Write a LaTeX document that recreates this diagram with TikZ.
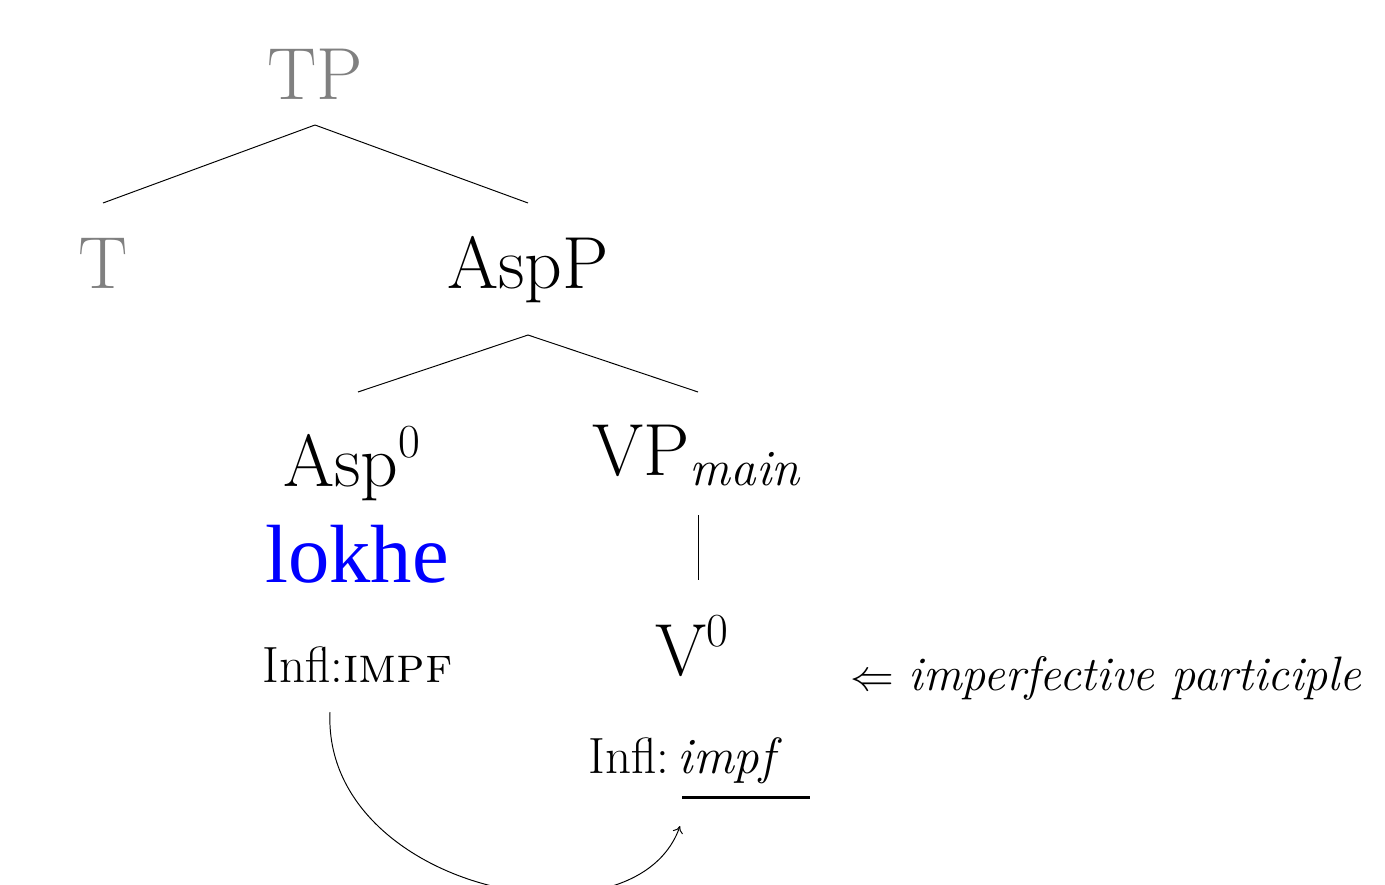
\documentclass[tikz,border=0pt]{standalone}
\usepackage{fontspec}
\usetikzlibrary{arrows.meta}
\newfontfamily\timesfam{Liberation Serif}
\definecolor{tgray}{RGB}{128,128,128}
\definecolor{lblue}{RGB}{0,0,255}
\tikzset{
  big/.style={font=\fontsize{42}{42}\selectfont, inner sep=0pt, anchor=base west},
  small/.style={font=\fontsize{29}{29}\selectfont, inner sep=0pt, anchor=base west},
  edge/.style={line width=0.55pt},
}
\begin{document}
\begin{tikzpicture}[x=0.02cm,y=-0.02cm]
\useasboundingbox (0,0) rectangle (1385,885);
% nodes
\node[big, anchor=base, text=tgray] (TP) at (315,100) {TP};
\node[big, anchor=base, text=tgray] (T) at (103,288) {T};
\node[big, anchor=base] (AspP) at (528,288) {AspP};
\node[big] (Asp) at (283,486) {Asp\raisebox{16pt}{\fontsize{27}{27}\selectfont 0}};
\node[big] (VP) at (592,475) {VP\raisebox{-6pt}{\fontsize{29}{29}\selectfont\itshape main}};
\node[big, font=\fontsize{47}{47}\timesfam, text=lblue] (lokhe) at (265,582) {lokhe};
\node[big] (V) at (655,675) {V\raisebox{16pt}{\fontsize{27}{27}\selectfont 0}};
\node[small] (InflL) at (262,682) {Infl:\textsc{impf}};
\node[small] (InflR) at (588,773) {Infl:\,\textit{impf}};
\node[small, font=\fontsize{27.5}{27.5}\selectfont] (part) at (850,690) {{\fontsize{31}{31}\selectfont$\Leftarrow$} \textit{imperfective participle}};
% line ends
\coordinate (TPb) at (315,125);
\coordinate (Tt) at (103,203);
\coordinate (AspPt) at (528,203);
\coordinate (AspPb) at (528,335);
\coordinate (Aspt) at (358,392);
\coordinate (VPt) at (698,392);
\coordinate (VPb) at (698,515);
\coordinate (Vt) at (698,580);
\coordinate (u1) at (682,797);
\coordinate (u2) at (810,797);
\coordinate (cs) at (330,712);
\coordinate (ce) at (680,826);
% connectors
\draw[edge] (TPb) -- (Tt);
\draw[edge] (TPb) -- (AspPt);
\draw[edge] (AspPb) -- (Aspt);
\draw[edge] (AspPb) -- (VPt);
\draw[edge] (VPb) -- (Vt);
\draw[line width=1.7pt] (u1) -- (u2);
\draw[edge, -{To[length=4pt,width=6pt]}] (cs) .. controls (322,890) and (635,955) .. (ce);
\end{tikzpicture}
\end{document}
